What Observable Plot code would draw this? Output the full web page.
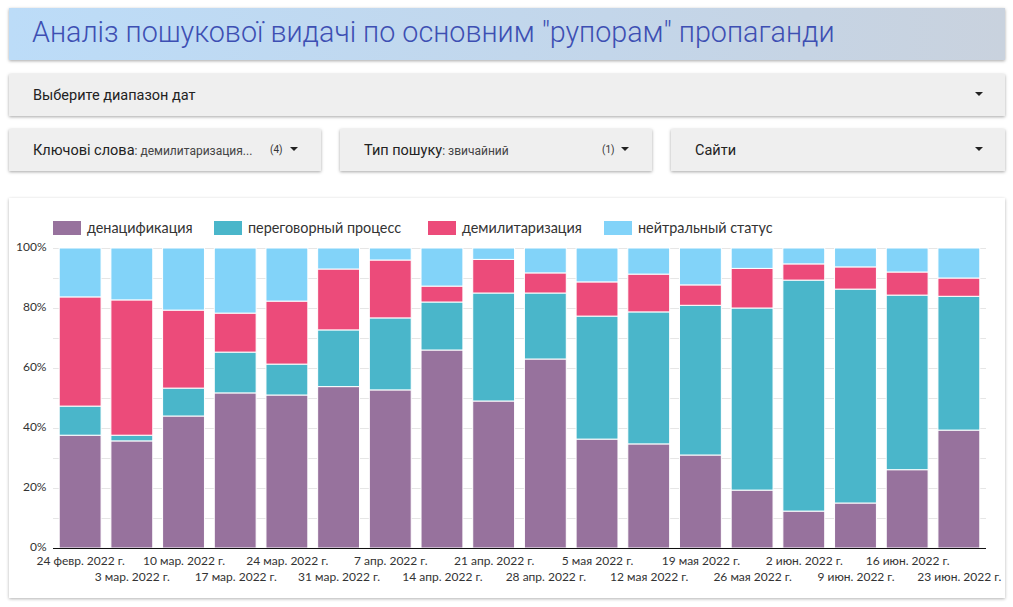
<!DOCTYPE html>
<html>
<head>
<meta charset="utf-8">
<script src="https://cdn.jsdelivr.net/npm/d3@7"></script>
<script src="https://cdn.jsdelivr.net/npm/@observablehq/plot@0.6"></script>
<style>
  html, body { margin: 0; padding: 0; background: #ffffff; }
  body { width: 1013px; height: 607px; position: relative; overflow: hidden; font-family: Roboto, sans-serif; }
  .box { position: absolute; box-shadow: 0 1px 3px rgba(0,0,0,0.35); }
  .header { left: 9px; top: 8px; width: 996px; height: 52px;
    background: linear-gradient(90deg, #bcdcf8 0%, #c3d6ea 60%, #c9d2de 100%); }
  .header .t { position: absolute; left: 23px; top: 7px; font-size: 28.7px; color: #3d4fb3; font-weight: 300; white-space: nowrap; }
  .flt { background: #efefef; height: 42px; }
  .flt .lab { position: absolute; left: 24px; top: 13px; font-size: 14.5px; color: #222; white-space: nowrap; }
  .flt .lab small { font-size: 12px; color: #444; }
  .flt .cnt { position: absolute; top: 15px; font-size: 10px; color: #333; }
  .flt .arr { position: absolute; top: 18px; width: 0; height: 0; border-left: 4px solid transparent; border-right: 4px solid transparent; border-top: 4px solid #222; }
  .card { left: 9px; top: 198px; width: 996px; height: 400px; background: #fff; box-shadow: 0 1px 3px rgba(0,0,0,0.3); }
  .legend { position: absolute; left: 0; top: 219px; width: 1013px; height: 18px; font-family: Lato, sans-serif; font-size: 14.4px; color: #333; }
  .legend .it { position: absolute; top: 0; display: flex; align-items: center; white-space: nowrap; }
  .legend .sw { width: 28px; height: 14px; margin-right: 6px; }
  #chart { position: absolute; left: 0; top: 240px; }
</style>
</head>
<body>
<div class="box header"><div class="t">Аналіз пошукової видачі по основним "рупорам" пропаганди</div></div>
<div class="box flt" style="left:9px;top:74px;width:996px;">
  <div class="lab">Выберите диапазон дат</div>
  <div class="arr" style="left:966px"></div>
</div>
<div class="box flt" style="left:9px;top:129px;width:312px;">
  <div class="lab">Ключові слова<small>: демилитаризация...</small></div>
  <div class="cnt" style="left:261px">(4)</div>
  <div class="arr" style="left:281px"></div>
</div>
<div class="box flt" style="left:340px;top:129px;width:312px;">
  <div class="lab">Тип пошуку<small>: звичайний</small></div>
  <div class="cnt" style="left:262px">(1)</div>
  <div class="arr" style="left:281px"></div>
</div>
<div class="box flt" style="left:671px;top:129px;width:334px;">
  <div class="lab">Сайти</div>
  <div class="arr" style="left:304px"></div>
</div>
<div class="box card"></div>
<div class="legend" id="legend"></div>
<div id="chart"></div>
<script>
const weeks = ["24 февр. 2022 г.", "3 мар. 2022 г.", "10 мар. 2022 г.", "17 мар. 2022 г.", "24 мар. 2022 г.", "31 мар. 2022 г.",
  "7 апр. 2022 г.", "14 апр. 2022 г.", "21 апр. 2022 г.", "28 апр. 2022 г.", "5 мая 2022 г.", "12 мая 2022 г.",
  "19 мая 2022 г.", "26 мая 2022 г.", "2 июн. 2022 г.", "9 июн. 2022 г.", "16 июн. 2022 г.", "23 июн. 2022 г."];
const seriesNames = ["денацификация", "переговорный процесс", "демилитаризация", "нейтральный статус"];
const seriesColors = ["#97729d", "#4ab6ca", "#ec4b7a", "#82d3f9"];
const denazification = [37.6, 35.7, 44.0, 51.7, 51.0, 53.8, 52.7, 66.0, 49.0, 63.0, 36.3, 34.7, 31.0, 19.3, 12.3, 15.0, 26.1, 39.3];
const negotiation    = [ 9.7,  1.9,  9.3, 13.6, 10.3, 18.9, 24.0, 16.0, 36.0, 22.0, 41.0, 44.0, 49.9, 60.7, 77.0, 71.3, 58.2, 44.6];
const demilitarization = [36.4, 45.1, 26.0, 13.0, 21.0, 20.3, 19.3, 5.3, 11.2, 6.7, 11.4, 12.6, 6.8, 13.2, 5.4, 7.4, 7.7, 6.1];
const neutral        = [16.3, 17.3, 20.7, 21.7, 17.7,  7.0,  4.0, 12.7,  3.8,  8.3, 11.3,  8.7, 12.3,  6.8,  5.3,  6.3,  8.0, 10.0];
const yTicks = [0, 20, 40, 60, 80, 100];

const seriesValues = [denazification, negotiation, demilitarization, neutral];
const data = [];
weeks.forEach((w, i) => {
  seriesNames.forEach((s, j) => data.push({week: w, series: s, value: seriesValues[j][i]}));
});

// legend (HTML, above the SVG)
const legendLeft = [53, 214, 428, 604];
const leg = document.getElementById("legend");
seriesNames.forEach((s, j) => {
  const it = document.createElement("div"); it.className = "it"; it.style.left = legendLeft[j] + "px";
  const sw = document.createElement("div"); sw.className = "sw"; sw.style.background = seriesColors[j];
  const tx = document.createElement("span"); tx.textContent = s;
  it.appendChild(sw); it.appendChild(tx); leg.appendChild(it);
});

const even = weeks.filter((d, i) => i % 2 === 0);
const odd = weeks.filter((d, i) => i % 2 === 1);

const chart = Plot.plot({
  width: 1013,
  height: 350,
  marginLeft: 53,
  marginRight: 27,
  marginTop: 8,
  marginBottom: 42,
  style: {fontFamily: "Lato, sans-serif", fontSize: "12px", color: "#333", background: "transparent"},
  x: {domain: weeks, paddingInner: 0.19, paddingOuter: 0.12, round: false, label: null},
  y: {domain: [0, 100], label: null},
  color: {domain: seriesNames, range: seriesColors},
  marks: [
    Plot.gridY(d3.range(0, 101, 10), {stroke: "#e6e6e6", strokeOpacity: 1}),
    Plot.barY(data, Plot.stackY({x: "week", y: "value", fill: "series", stroke: "white", strokeWidth: 1})),
    Plot.ruleY([0], {stroke: "#111", strokeWidth: 1.2}),
    Plot.axisY({ticks: yTicks, tickFormat: d => d + "%", tickSize: 0, tickPadding: 7, dy: -1, label: null, fontSize: 12}),
    Plot.axisX({ticks: even, tickSize: 0, tickPadding: 8, label: null, fontSize: 12}),
    Plot.axisX({ticks: odd, tickSize: 0, tickPadding: 24, label: null, fontSize: 12})
  ]
});
document.getElementById("chart").appendChild(chart);
</script>
</body>
</html>
